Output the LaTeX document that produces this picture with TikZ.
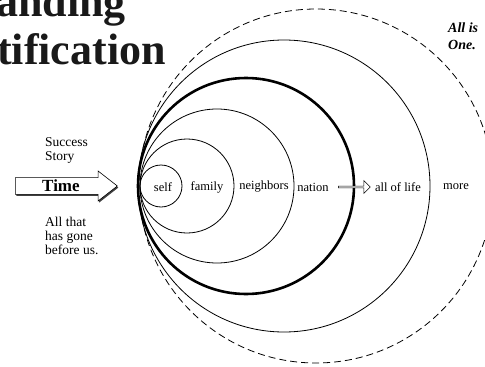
\documentclass[tikz,border=0pt]{standalone}
\usepackage{fontspec}
\setmainfont{Liberation Serif}
\usepackage{tikz}
\usetikzlibrary{shapes.arrows,shadows}
\tikzset{
    ring/.style={line width=0.8pt},
    ringlabel/.style={font=\fontsize{12.5}{14}\selectfont, inner sep=0pt},
    sidetext/.style={font=\fontsize{13.5}{14}\selectfont, align=left, anchor=west, inner sep=0pt},
    titletext/.style={font=\fontsize{44}{48}\selectfont\bfseries, anchor=base west, inner sep=0pt, text=black!90},
}

\begin{document}
\begin{tikzpicture}[x=1pt,y=-1pt]
    \useasboundingbox (0,0) rectangle (485,367);
    \clip (0,0) rectangle (485,367);
    % title, cut off by the frame
    \node[titletext] (titletop) at (-4,16) {anding};
    \node[titletext] (titlebot) at (-3,64) {tification};
    \node[font=\fontsize{14}{17}\selectfont\bfseries\itshape, align=left, anchor=north west, inner sep=0pt] (allone) at (448,23) {All is\\One.};
    % the rings
    \draw[ring] (161,186) circle (21);
    \draw[ring] (187,186) circle (47);
    \draw[ring] (217,186) circle (77);
    \draw[line width=2.6pt] (246,186) circle (108);
    \draw[ring] (284,186) circle (146);
    \draw[ring, dash pattern=on 7pt off 4pt] (316,186) circle (177);
    \node[ringlabel] (self) at (163,187) {self};
    \node[ringlabel] (family) at (207,187) {family};
    \node[ringlabel] (neighbors) at (264,187) {neighbors};
    \node[ringlabel] (nation) at (313,187) {nation};
    \node[ringlabel] (alloflife) at (398,187) {all of life};
    \node[ringlabel] (more) at (456,187) {more};
    \node[single arrow, draw, fill=white, line width=0.6pt, inner sep=0pt, minimum width=13pt, minimum height=32pt,
          single arrow head extend=2pt, anchor=tail] (grow) at (338,187) {};
    % left side
    \node[sidetext] (success) at (45,150) {Success\\Story};
    \node[single arrow, draw, fill=white, line width=0.6pt, inner sep=0pt, minimum width=30pt, minimum height=102pt,
          single arrow head extend=5pt, single arrow tip angle=76, anchor=tail,
          drop shadow={shadow xshift=1pt, shadow yshift=-1.6pt, fill=black!75, opacity=1},
          font=\fontsize{17}{18}\selectfont\bfseries] (time) at (15,186) {Time};
    \node[sidetext] (before) at (45,236) {All that\\has gone\\before us.};
\end{tikzpicture}
\end{document}
